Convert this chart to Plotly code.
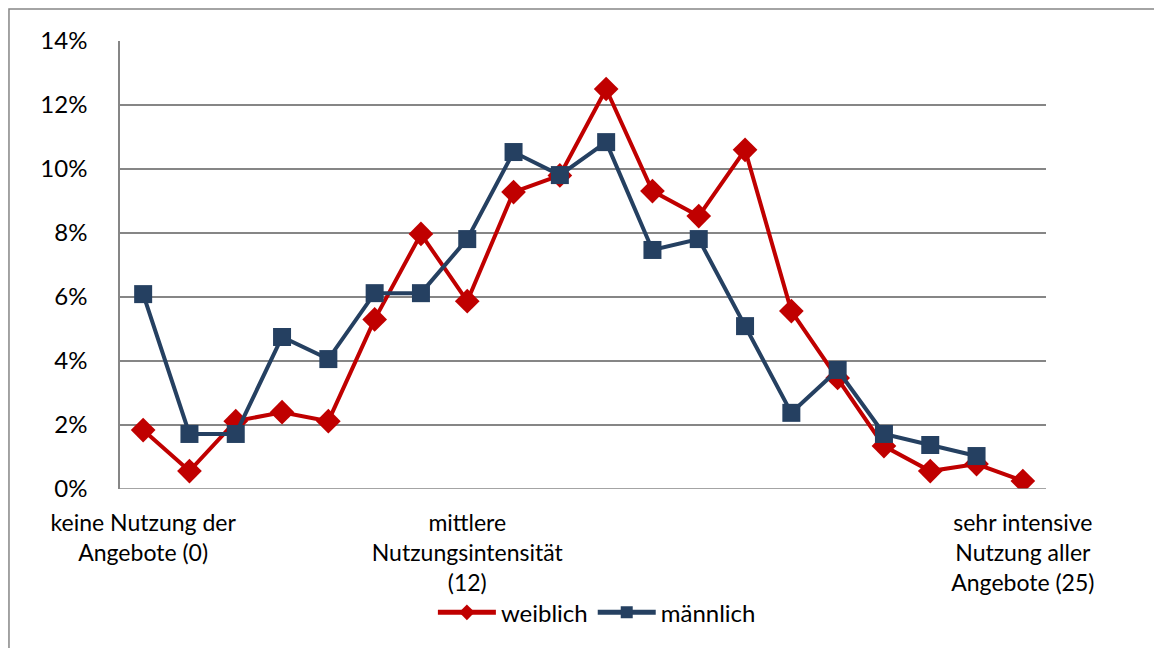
import plotly.graph_objects as go

categories = list(range(20))
tick_positions = [0, 7, 19]
tick_labels = ["keine Nutzung der<br>Angebote (0)",
               "mittlere<br>Nutzungsintensität<br>(12)",
               "sehr intensive<br>Nutzung aller<br>Angebote (25)"]

weiblich = [1.84, 0.56, 2.12, 2.4, 2.12, 5.3, 7.97, 5.87, 9.28, 9.8,
            12.5, 9.31, 8.53, 10.6, 5.56, 3.47, 1.34, 0.56, 0.78, 0.25]
maennlich = [6.09, 1.72, 1.72, 4.75, 4.06, 6.12, 6.12, 7.81, 10.53, 9.81,
             10.84, 7.47, 7.81, 5.09, 2.38, 3.72, 1.72, 1.375, 1.03, None]

y_ticks = [0, 2, 4, 6, 8, 10, 12, 14]
y_labels = ["0%", "2%", "4%", "6%", "8%", "10%", "12%", "14%"]

RED = "#C00000"
BLUE = "#254061"
FONT = "Lato, Carlito, 'Liberation Sans', sans-serif"

fig = go.Figure()
fig.add_trace(go.Scatter(x=categories, y=weiblich, name="weiblich", mode="lines+markers",
                         line=dict(color=RED, width=4),
                         marker=dict(symbol="diamond", size=19, color=RED)))
fig.add_trace(go.Scatter(x=categories, y=maennlich, name="männlich", mode="lines+markers",
                         line=dict(color=BLUE, width=4),
                         marker=dict(symbol="square", size=18, color=BLUE)))

fig.update_layout(
    width=1162, height=648,
    margin=dict(l=112, r=124, t=33, b=167, autoexpand=False),
    paper_bgcolor="white", plot_bgcolor="white",
    font=dict(family=FONT, size=24, color="black"),
    showlegend=True,
    legend=dict(orientation="h", x=0.515, xanchor="center", y=-0.226, yanchor="top",
                bgcolor="rgba(0,0,0,0)",
                font=dict(size=24), itemwidth=58, tracegroupgap=0, itemsizing="constant"),
    xaxis=dict(range=[-0.5, 19.5], tickmode="array", tickvals=tick_positions,
               ticktext=tick_labels, showgrid=False, zeroline=False, automargin=False,
               showline=False, ticks="", ticklabelstandoff=18, tickfont=dict(size=23)),
    yaxis=dict(range=[0, 14], tickmode="array", tickvals=y_ticks, ticktext=y_labels,
               showgrid=True, gridcolor="#868686", gridwidth=1.5, zeroline=False,
               showline=True, linecolor="#868686", linewidth=1.5, automargin=False,
               ticks="", ticklabelstandoff=26, tickfont=dict(size=24)),
    shapes=[
        dict(type="line", xref="paper", yref="y", x0=0, x1=1, y0=0, y1=0,
             line=dict(color="#868686", width=1.5)),
        dict(type="rect", xref="paper", yref="paper", x0=-0.1199, x1=1.3,
             y0=-0.6, y1=1.0714, line=dict(color="#868686", width=1.5),
             fillcolor="rgba(0,0,0,0)", layer="below"),
    ],
)

fig.write_html("out.html")
